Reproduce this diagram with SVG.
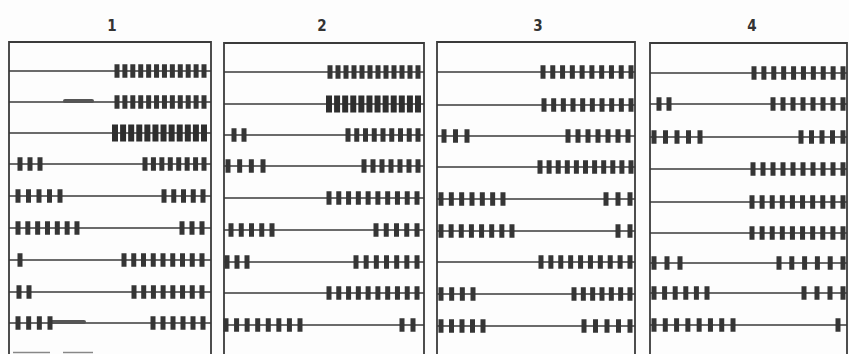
<svg xmlns="http://www.w3.org/2000/svg" width="849" height="354" viewBox="0 0 849 354">
<defs>
<filter id="soft" x="-5%" y="-50%" width="110%" height="200%"><feGaussianBlur stdDeviation="0.75"/></filter>
<style>
.frame{fill:none;stroke:#3a3a3a;stroke-width:1.8}
.wire{stroke:#3a3a3a;stroke-width:1.5}
.b{stroke:#353535;stroke-width:13.5}
.bc{stroke:#2e2e2e;stroke-width:17}
.blob{stroke:#555;stroke-width:4;stroke-linecap:round}
.lbl{font-family:"DejaVu Sans Condensed","Liberation Sans",sans-serif;font-weight:bold;font-size:15px;fill:#333;text-anchor:middle}
</style>
</defs>
<rect width="849" height="354" fill="#fdfdfd"/>
<g id="labels">
<text class="lbl" x="112" y="31">1</text>
<text class="lbl" x="322" y="31">2</text>
<text class="lbl" x="538" y="31">3</text>
<text class="lbl" x="752" y="31">4</text>
</g>
<g id="panel1" filter="url(#soft)">
<path class="frame" d="M9,354 V42 H211 V354"/>
<line x1="13" y1="352.5" x2="50" y2="352.5" stroke="#888" stroke-width="1.5"/>
<line x1="63" y1="352.5" x2="93" y2="352.5" stroke="#888" stroke-width="1.5"/>
<g class="wire">
<line x1="9" y1="71" x2="211" y2="71"/><line x1="9" y1="102" x2="211" y2="102"/><line x1="9" y1="133" x2="211" y2="133"/>
<line x1="9" y1="164" x2="211" y2="164"/><line x1="9" y1="196" x2="211" y2="196"/><line x1="9" y1="228" x2="211" y2="228"/>
<line x1="9" y1="260" x2="211" y2="260"/><line x1="9" y1="292" x2="211" y2="292"/><line x1="9" y1="323" x2="211" y2="323"/>
</g>
<line class="blob" x1="65" y1="101" x2="92" y2="101"/>
<line class="blob" x1="52" y1="322" x2="84" y2="322"/>
<line class="b" x1="114.5" y1="71" x2="206.5" y2="71" stroke-dasharray="5 2.91"/>
<line class="b" x1="114.5" y1="102" x2="206.5" y2="102" stroke-dasharray="5 2.91"/>
<line class="bc" x1="112" y1="133" x2="207" y2="133" stroke-dasharray="6 2.09"/>
<line class="b" x1="17.5" y1="164" x2="42.5" y2="164" stroke-dasharray="5 5"/>
<line class="b" x1="142.5" y1="164" x2="206.5" y2="164" stroke-dasharray="5 3.43"/>
<line class="b" x1="15.5" y1="196" x2="62.5" y2="196" stroke-dasharray="5 5.5"/>
<line class="b" x1="161.5" y1="196" x2="205.5" y2="196" stroke-dasharray="5 4.75"/>
<line class="b" x1="15.5" y1="228" x2="79.5" y2="228" stroke-dasharray="5 4.83"/>
<line class="b" x1="179.5" y1="228" x2="204.5" y2="228" stroke-dasharray="5 5"/>
<line class="b" x1="17.5" y1="260" x2="22.5" y2="260"/>
<line class="b" x1="121.5" y1="260" x2="204.5" y2="260" stroke-dasharray="5 4.75"/>
<line class="b" x1="16.5" y1="292" x2="31.5" y2="292" stroke-dasharray="5 5"/>
<line class="b" x1="131.5" y1="292" x2="204.5" y2="292" stroke-dasharray="5 4.71"/>
<line class="b" x1="15.5" y1="323" x2="52.5" y2="323" stroke-dasharray="5 5.67"/>
<line class="b" x1="150.5" y1="323" x2="205.5" y2="323" stroke-dasharray="5 5"/>
</g>
<g id="panel2" filter="url(#soft)">
<path class="frame" d="M224,354 V43 H424 V354"/>
<g class="wire">
<line x1="224" y1="72" x2="424" y2="72"/><line x1="224" y1="104" x2="424" y2="104"/><line x1="224" y1="135" x2="424" y2="135"/>
<line x1="224" y1="166" x2="424" y2="166"/><line x1="224" y1="198" x2="424" y2="198"/><line x1="224" y1="230" x2="424" y2="230"/>
<line x1="224" y1="262" x2="424" y2="262"/><line x1="224" y1="293" x2="424" y2="293"/><line x1="224" y1="325" x2="424" y2="325"/>
</g>
<line class="b" x1="327.5" y1="72" x2="420.5" y2="72" stroke-dasharray="5 3"/>
<line class="bc" x1="326" y1="104" x2="421" y2="104" stroke-dasharray="6 2.09"/>
<line class="b" x1="231.5" y1="135" x2="246.5" y2="135" stroke-dasharray="5 5"/>
<line class="b" x1="345.5" y1="135" x2="420.5" y2="135" stroke-dasharray="5 3.75"/>
<line class="b" x1="225.5" y1="166" x2="265.5" y2="166" stroke-dasharray="5 6.67"/>
<line class="b" x1="361.5" y1="166" x2="420.5" y2="166" stroke-dasharray="5 4"/>
<line class="b" x1="326.5" y1="198" x2="419.5" y2="198" stroke-dasharray="5 4.78"/>
<line class="b" x1="228.5" y1="230" x2="274.5" y2="230" stroke-dasharray="5 5.25"/>
<line class="b" x1="373.5" y1="230" x2="419.5" y2="230" stroke-dasharray="5 5.25"/>
<line class="b" x1="224.5" y1="262" x2="249.5" y2="262" stroke-dasharray="5 5"/>
<line class="b" x1="353.5" y1="262" x2="419.5" y2="262" stroke-dasharray="5 5.17"/>
<line class="b" x1="326.5" y1="293" x2="419.5" y2="293" stroke-dasharray="5 4.78"/>
<line class="b" x1="223.5" y1="325" x2="302.5" y2="325" stroke-dasharray="5 5.57"/>
<line class="b" x1="399.5" y1="325" x2="415.5" y2="325" stroke-dasharray="5 6"/>
</g>
<g id="panel3" filter="url(#soft)">
<path class="frame" d="M437,354 V42 H635 V354"/>
<g class="wire">
<line x1="437" y1="72" x2="635" y2="72"/><line x1="437" y1="105" x2="635" y2="105"/><line x1="437" y1="136" x2="635" y2="136"/>
<line x1="437" y1="167" x2="635" y2="167"/><line x1="437" y1="199" x2="635" y2="199"/><line x1="437" y1="231" x2="635" y2="231"/>
<line x1="437" y1="262" x2="635" y2="262"/><line x1="437" y1="294" x2="635" y2="294"/><line x1="437" y1="326" x2="635" y2="326"/>
</g>
<line class="b" x1="540.5" y1="72" x2="633.5" y2="72" stroke-dasharray="5 4.78"/>
<line class="b" x1="541.5" y1="105" x2="633.5" y2="105" stroke-dasharray="5 4.67"/>
<line class="b" x1="441.5" y1="136" x2="469.5" y2="136" stroke-dasharray="5 6.5"/>
<line class="b" x1="565.5" y1="136" x2="630.5" y2="136" stroke-dasharray="5 5"/>
<line class="b" x1="537.5" y1="167" x2="633.5" y2="167" stroke-dasharray="5 4.1"/>
<line class="b" x1="438.5" y1="199" x2="505.5" y2="199" stroke-dasharray="5 5.33"/>
<line class="b" x1="603.5" y1="199" x2="632.5" y2="199" stroke-dasharray="5 7"/>
<line class="b" x1="438.5" y1="231" x2="514.5" y2="231" stroke-dasharray="5 5.14"/>
<line class="b" x1="615.5" y1="231" x2="632.5" y2="231" stroke-dasharray="5 7"/>
<line class="b" x1="538.5" y1="262" x2="632.5" y2="262" stroke-dasharray="5 4.89"/>
<line class="b" x1="438.5" y1="294" x2="475.5" y2="294" stroke-dasharray="5 5.67"/>
<line class="b" x1="571.5" y1="294" x2="632.5" y2="294" stroke-dasharray="5 4.33"/>
<line class="b" x1="438.5" y1="326" x2="485.5" y2="326" stroke-dasharray="5 5.5"/>
<line class="b" x1="581.5" y1="326" x2="632.5" y2="326" stroke-dasharray="5 6.5"/>
</g>
<g id="panel4" filter="url(#soft)">
<path class="frame" d="M650,354 V43 H847 V354"/>
<g class="wire">
<line x1="650" y1="73" x2="847" y2="73"/><line x1="650" y1="104" x2="847" y2="104"/><line x1="650" y1="137" x2="847" y2="137"/>
<line x1="650" y1="169" x2="847" y2="169"/><line x1="650" y1="202" x2="847" y2="202"/><line x1="650" y1="233" x2="847" y2="233"/>
<line x1="650" y1="263" x2="847" y2="263"/><line x1="650" y1="293" x2="847" y2="293"/><line x1="650" y1="325" x2="847" y2="325"/>
</g>
<line class="b" x1="751.5" y1="73" x2="845.5" y2="73" stroke-dasharray="5 4.89"/>
<line class="b" x1="656.5" y1="104" x2="671.5" y2="104" stroke-dasharray="5 5"/>
<line class="b" x1="770.5" y1="104" x2="845.5" y2="104" stroke-dasharray="5 5"/>
<line class="b" x1="651.5" y1="137" x2="702.5" y2="137" stroke-dasharray="5 6.5"/>
<line class="b" x1="798.5" y1="137" x2="845.5" y2="137" stroke-dasharray="5 5.5"/>
<line class="b" x1="750.5" y1="169" x2="845.5" y2="169" stroke-dasharray="5 5"/>
<line class="b" x1="749.5" y1="202" x2="845.5" y2="202" stroke-dasharray="5 5.11"/>
<line class="b" x1="749.5" y1="233" x2="845.5" y2="233" stroke-dasharray="5 5.11"/>
<line class="b" x1="651.5" y1="263" x2="682.5" y2="263" stroke-dasharray="5 8"/>
<line class="b" x1="776.5" y1="263" x2="845.5" y2="263" stroke-dasharray="5 7.8"/>
<line class="b" x1="651.5" y1="293" x2="709.5" y2="293" stroke-dasharray="5 5.6"/>
<line class="b" x1="801.5" y1="293" x2="845.5" y2="293" stroke-dasharray="5 8"/>
<line class="b" x1="651.5" y1="325" x2="735.5" y2="325" stroke-dasharray="5 6.29"/>
<line class="b" x1="835.5" y1="325" x2="840.5" y2="325"/>
</g>
</svg>
